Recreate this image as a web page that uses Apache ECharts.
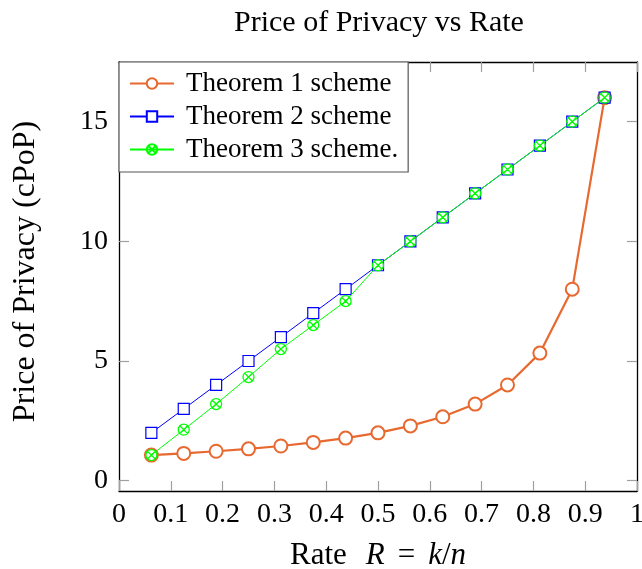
<!DOCTYPE html>
<html>
<head>
<meta charset="utf-8">
<script src="https://cdn.jsdelivr.net/npm/echarts@6/dist/echarts.min.js"></script>
<style>
  html, body { margin: 0; padding: 0; background: #fff; }
  #chart { width: 642px; height: 569px; }
</style>
</head>
<body>
<div id="chart"></div>
<script>
// rate values k/n, n = 16
const rates = [0.0625, 0.125, 0.1875, 0.25, 0.3125, 0.375, 0.4375, 0.5, 0.5625, 0.625, 0.6875, 0.75, 0.8125, 0.875, 0.9375]
const theorem1 = [1.07, 1.14, 1.23, 1.33, 1.45, 1.6, 1.78, 2, 2.29, 2.67, 3.2, 4, 5.33, 8, 16]
const theorem2 = [2, 3, 4, 5, 6, 7, 8, 9, 10, 11, 12, 13, 14, 15, 16]
const theorem3 = [1.07, 2.13, 3.2, 4.33, 5.5, 6.5, 7.5, 9, 10, 11, 12, 13, 14, 15, 16]
const yTicks = [0, 5, 10, 15]
const seriesNames = ['Theorem 1 scheme', 'Theorem 2 scheme', 'Theorem 3 scheme.']

const serif = 'Liberation Serif'
// circle with a cross inside (otimes mark)
const otimes = 'path://M0,10 A10,10 0 1,1 20,10 A10,10 0 1,1 0,10 Z M2.93,2.93 L17.07,17.07 M17.07,2.93 L2.93,17.07'

const pairs = (ys) => rates.map((x, i) => [x, ys[i]])

const chart = echarts.init(document.getElementById('chart'))

const tickStyle = { show: true, inside: true, length: 10, lineStyle: { color: '#a0a0a0', width: 1.2 } }
const frameLine = { show: true, onZero: false, lineStyle: { color: '#000', width: 1.3 } }

chart.setOption({
  backgroundColor: '#fff',
  animation: false,
  title: {
    text: 'Price of Privacy vs Rate',
    left: 234,
    top: 8,
    padding: 0,
    textStyle: { fontFamily: serif, fontWeight: 'normal', fontSize: 30, color: '#000' }
  },
  grid: { left: 119, top: 62, right: 5, bottom: 78, outerBoundsMode: 'none' },
  legend: {
    orient: 'vertical',
    left: 119,
    top: 62,
    itemWidth: 44,
    itemHeight: 13,
    itemGap: 6,
    padding: [8, 10, 9, 10],
    borderColor: '#555',
    borderWidth: 1.2,
    backgroundColor: '#fff',
    textStyle: { fontFamily: serif, fontSize: 27, color: '#000', padding: [0, 0, 0, 7] },
    data: seriesNames
  },
  xAxis: [{
    type: 'value',
    min: 0,
    max: 1,
    interval: 0.1,
    name: '{t|Rate}{r|R}{t|=}{k|k}{t|/}{i|n}',
    nameLocation: 'middle',
    nameGap: 49,
    nameTextStyle: {
      rich: {
        t: { fontFamily: serif, fontSize: 31, color: '#000' },
        i: { fontFamily: serif, fontSize: 31, fontStyle: 'italic', color: '#000' },
        r: { fontFamily: serif, fontSize: 31, fontStyle: 'italic', color: '#000', padding: [0, 13, 0, 19] },
        k: { fontFamily: serif, fontSize: 31, fontStyle: 'italic', color: '#000', padding: [0, 0, 0, 13] }
      }
    },
    axisLine: frameLine,
    axisTick: tickStyle,
    axisLabel: { fontFamily: serif, fontSize: 28, color: '#000', margin: 10 },
    splitLine: { show: false }
  }, {
    type: 'value',
    position: 'top',
    min: 0,
    max: 1,
    interval: 0.1,
    axisLine: frameLine,
    axisTick: tickStyle,
    axisLabel: { show: false },
    splitLine: { show: false }
  }],
  yAxis: [{
    type: 'value',
    min: -0.43,
    max: 17.49,
    name: 'Price of Privacy (cPoP)',
    nameLocation: 'middle',
    nameGap: 77,
    nameTextStyle: { fontFamily: serif, fontSize: 32, color: '#000', padding: [0, 0, 0, 10] },
    axisLine: frameLine,
    axisTick: Object.assign({}, tickStyle, { customValues: yTicks }),
    axisLabel: { fontFamily: serif, fontSize: 28, color: '#000', margin: 11, customValues: yTicks },
    splitLine: { show: false }
  }, {
    type: 'value',
    position: 'right',
    min: -0.43,
    max: 17.49,
    axisLine: frameLine,
    axisTick: Object.assign({}, tickStyle, { customValues: yTicks }),
    axisLabel: { show: false },
    splitLine: { show: false }
  }],
  series: [{
    name: seriesNames[0],
    type: 'line',
    data: pairs(theorem1),
    symbol: 'circle',
    symbolSize: 13,
    showAllSymbol: true,
    lineStyle: { color: '#e8692f', width: 2.2 },
    itemStyle: { color: '#fff', borderColor: '#e8692f', borderWidth: 2 },
    z: 2
  }, {
    name: seriesNames[1],
    type: 'line',
    data: pairs(theorem2),
    symbol: 'rect',
    symbolSize: 11,
    showAllSymbol: true,
    lineStyle: { color: '#0000ff', width: 1 },
    itemStyle: { color: '#fff', borderColor: '#0000ff', borderWidth: 1.2 },
    z: 3
  }, {
    name: seriesNames[2],
    type: 'line',
    data: pairs(theorem3),
    symbol: otimes,
    symbolSize: 11,
    showAllSymbol: true,
    lineStyle: { color: '#00ff00', width: 1 },
    itemStyle: { color: 'rgba(0,0,0,0)', borderColor: '#00ff00', borderWidth: 1.3 },
    z: 4
  }]
})
</script>
</body>
</html>
